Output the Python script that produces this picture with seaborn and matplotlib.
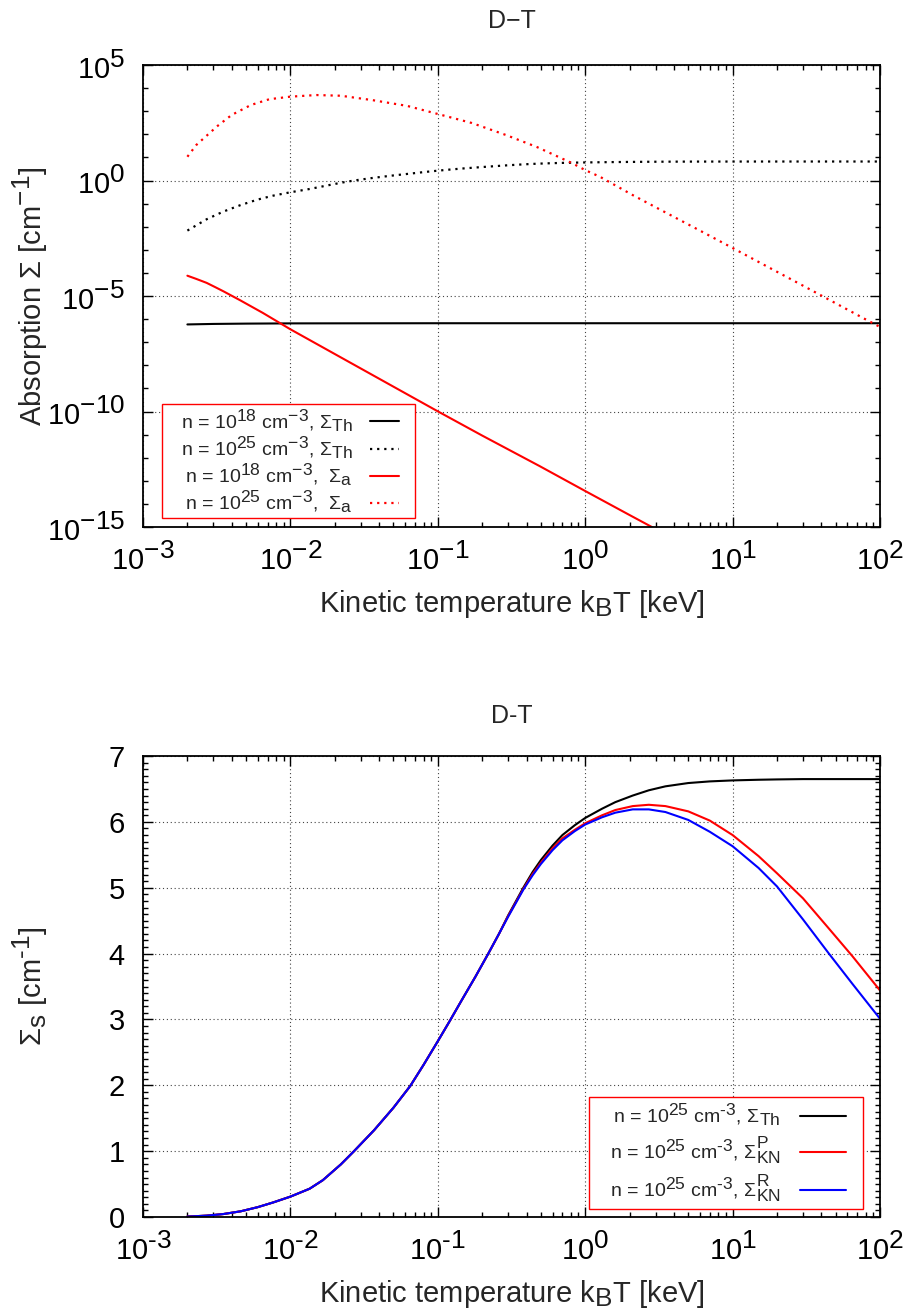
import math

import matplotlib
matplotlib.use("Agg")
import matplotlib._mathtext as mathtext_internals
import matplotlib.pyplot as plt
import matplotlib.ticker as mticker
import seaborn as sns

# gnuplot-like superscripts are larger than matplotlib's default 0.7
mathtext_internals.SHRINK_FACTOR = 0.9

# ---- temperature grid shared by the Thomson / Klein-Nishina curves [keV] ----
temp_th = [0.002, 0.0027, 0.0035, 0.0046, 0.006, 0.0076, 0.01, 0.0135, 0.0166, 0.022,
           0.027, 0.037, 0.05, 0.065, 0.08, 0.1, 0.12, 0.145, 0.18, 0.22, 0.26, 0.3,
           0.38, 0.44, 0.5, 0.6, 0.7, 0.85, 1.0, 1.3, 1.6, 2.1, 2.7, 3.5, 5, 7, 10,
           15, 20, 30, 45, 65, 100]
# Thomson, n = 1e25 (same curve in both panels)
sigma_th_25 = [0.0068, 0.021, 0.045, 0.087, 0.15, 0.22, 0.31, 0.43, 0.56, 0.80,
               1.0, 1.32, 1.66, 1.99, 2.31, 2.67, 2.97, 3.29, 3.65, 4.0, 4.30, 4.58,
               5.0, 5.24, 5.42, 5.64, 5.80, 5.95, 6.06, 6.2, 6.30, 6.40, 6.48, 6.54, 6.59,
               6.615, 6.63, 6.64, 6.645, 6.65, 6.65, 6.65, 6.65]
# Klein-Nishina, n = 1e25
sigma_kn_p = [0.0068, 0.021, 0.045, 0.087, 0.15, 0.22, 0.31, 0.43, 0.56, 0.80,
              1.0, 1.32, 1.66, 1.99, 2.31, 2.67, 2.97, 3.29, 3.65, 4.0, 4.30, 4.57,
              4.98, 5.21, 5.38, 5.60, 5.75, 5.88, 5.98, 6.1, 6.18, 6.24, 6.26, 6.24, 6.16,
              6.02, 5.80, 5.48, 5.22, 4.84, 4.38, 3.96, 3.44]
sigma_kn_r = [0.0068, 0.021, 0.045, 0.087, 0.15, 0.22, 0.31, 0.43, 0.56, 0.80,
              1.0, 1.32, 1.66, 1.99, 2.31, 2.67, 2.97, 3.29, 3.65, 4.0, 4.30, 4.56,
              4.97, 5.19, 5.36, 5.57, 5.72, 5.86, 5.96, 6.07, 6.14, 6.19, 6.19, 6.15, 6.03,
              5.85, 5.63, 5.30, 5.02, 4.52, 4.0, 3.54, 3.01]

# ---- top panel only ----
temp_th18 = [0.002, 0.003, 0.005, 0.01, 0.1, 1.0, 10, 100]
sigma_th_18 = [5.9e-7, 6.2e-7, 6.4e-7, 6.55e-7, 6.65e-7, 6.65e-7, 6.65e-7, 6.65e-7]

temp_a18 = [0.002, 0.0023, 0.0027, 0.0031, 0.0035, 0.00455, 0.0065, 0.01, 0.02, 0.055,
            0.1, 0.2, 0.49, 1.0, 2.0, 3.2]
sigma_a_18 = [7.59e-5, 5.50e-5, 3.72e-5, 2.40e-5, 1.62e-5, 6.61e-6, 1.86e-6, 3.63e-7,
              3.09e-8, 8.51e-10, 1.02e-10, 9.12e-12, 4.37e-13, 3.63e-14, 3.31e-15, 6.61e-16]

temp_a25 = [0.002, 0.0023, 0.0032, 0.004, 0.0054, 0.0072, 0.01, 0.015, 0.022, 0.036,
            0.062, 0.1, 0.17, 0.29, 0.47, 0.81, 1.0, 1.26, 2.1, 3.5, 6.0, 10, 17, 29,
            48, 81, 100]
sigma_a_25 = [10.7, 34.7, 229, 692, 1862, 3311, 4266, 5012, 4677, 3020,
              1698, 759, 309, 93.3, 28.2, 5.75, 2.82, 1.45, 0.234, 0.0417, 6.8e-3,
              1.20e-3, 1.95e-4, 3.16e-5, 5.6e-6, 9.3e-7, 4.57e-7]

sns.set_style("ticks")
plt.rcParams["font.family"] = ["Liberation Sans", "DejaVu Sans"]
plt.rcParams["mathtext.fontset"] = "custom"
plt.rcParams["mathtext.rm"] = "Liberation Sans"
plt.rcParams["mathtext.it"] = "Liberation Sans:italic"
plt.rcParams["mathtext.bf"] = "Liberation Sans:bold"
plt.rcParams["mathtext.sf"] = "Liberation Sans"

HY = "\u2010"  # plain hyphen, used in the lower panel instead of a minus sign
DOT = (0, (1, 2.2))
LEAD = "   "  # gnuplot key keeps some room left of the text


def style_axes(ax):
    ax.set_xscale("log")
    ax.set_xlim(1e-3, 1e2)
    ax.xaxis.set_major_locator(mticker.LogLocator(base=10, numticks=10))
    ax.xaxis.set_minor_locator(mticker.LogLocator(base=10, subs=range(2, 10), numticks=20))
    ax.xaxis.set_minor_formatter(mticker.NullFormatter())
    ax.tick_params(which="both", direction="in", top=True, right=True,
                   colors="black", labelsize=21, width=1)
    ax.tick_params(which="major", length=7)
    ax.tick_params(which="minor", length=3.5)
    ax.tick_params(axis="x", which="major", pad=11)
    ax.tick_params(axis="y", which="major", pad=13)
    ax.grid(True, which="major", color="#444444", linestyle=(0, (1, 2.5)), linewidth=0.8)
    for s in ax.spines.values():
        s.set_linewidth(1.3)
        s.set_color("black")
    ax.set_xlabel("Kinetic temperature k$_{\\rm B}$T [keV]", fontsize=21, labelpad=9)
    ax.yaxis.set_label_coords(-0.126, 0.5)


def hyphen_decade(v, pos):
    exp = int(round(math.log10(v)))
    return "$\\mathdefault{10^{" + str(exp).replace("-", HY) + "}}$"


fig = plt.figure(figsize=(9.08, 13.16), dpi=100)

# ---------- top ----------
ax1 = fig.add_axes([0.1575, 0.5995, 0.8117, 0.3511])
sns.lineplot(x=temp_th18, y=sigma_th_18, ax=ax1, color="black", linewidth=1.5,
             label=LEAD + "n = 10$^{18}$ cm$^{-3}$, $\\Sigma_{\\rm Th}$")
sns.lineplot(x=temp_th, y=sigma_th_25, ax=ax1, color="black", linewidth=1.6, linestyle=DOT,
             label=LEAD + "n = 10$^{25}$ cm$^{-3}$, $\\Sigma_{\\rm Th}$")
sns.lineplot(x=temp_a18, y=sigma_a_18, ax=ax1, color="red", linewidth=1.5,
             label=LEAD + "n = 10$^{18}$ cm$^{-3}$,  $\\Sigma_{\\rm a}$")
sns.lineplot(x=temp_a25, y=sigma_a_25, ax=ax1, color="red", linewidth=1.6, linestyle=DOT,
             label=LEAD + "n = 10$^{25}$ cm$^{-3}$,  $\\Sigma_{\\rm a}$")
ax1.set_yscale("log")
style_axes(ax1)
ax1.set_ylim(1e-15, 1e5)
ax1.yaxis.set_major_locator(mticker.FixedLocator([1e-15, 1e-10, 1e-5, 1e0, 1e5]))
ax1.yaxis.set_minor_locator(mticker.FixedLocator([10.0 ** k for k in range(-15, 6)]))
ax1.yaxis.set_major_formatter(mticker.LogFormatterSciNotation())
ax1.yaxis.set_minor_formatter(mticker.NullFormatter())
ax1.set_ylabel("Absorption \u03a3 [cm$^{-1}$]", fontsize=21)
ax1.set_title("D\u2212T", fontsize=18, pad=27)
leg1 = ax1.legend(loc="lower left", bbox_to_anchor=(0.026, 0.019, 0.343, 0.3),
                  mode="expand", fontsize=14,
                  markerfirst=False, frameon=True, fancybox=False, framealpha=1,
                  edgecolor="red", handlelength=1.45, handletextpad=0.9,
                  labelspacing=0.05, borderpad=0.15, borderaxespad=0)
leg1.get_frame().set_linewidth(1.0)

# ---------- bottom ----------
ax2 = fig.add_axes([0.1575, 0.0752, 0.8117, 0.3503])
sns.lineplot(x=temp_th, y=sigma_th_25, ax=ax2, color="black", linewidth=1.5,
             label=LEAD + "n = 10$^{25}$ cm$^{" + HY + "3}$, $\\Sigma_{\\rm Th}$")
sns.lineplot(x=temp_th, y=sigma_kn_p, ax=ax2, color="red", linewidth=1.5,
             label=LEAD + "n = 10$^{25}$ cm$^{" + HY + "3}$, $\\Sigma_{\\rm KN}^{\\rm P}$")
sns.lineplot(x=temp_th, y=sigma_kn_r, ax=ax2, color="blue", linewidth=1.5,
             label=LEAD + "n = 10$^{25}$ cm$^{" + HY + "3}$, $\\Sigma_{\\rm KN}^{\\rm R}$")
style_axes(ax2)
ax2.set_ylim(0, 7)
ax2.yaxis.set_major_locator(mticker.MultipleLocator(1))
ax2.yaxis.set_minor_locator(mticker.MultipleLocator(0.1))
ax2.xaxis.set_major_formatter(mticker.FuncFormatter(hyphen_decade))
ax2.set_ylabel("$\\Sigma_{\\rm s}$ [cm$^{" + HY + "1}$]", fontsize=21)
ax2.set_title("D-T", fontsize=18, pad=24)
leg2 = ax2.legend(loc="lower right", bbox_to_anchor=(0.605, 0.017, 0.372, 0.3),
                  mode="expand", fontsize=14,
                  markerfirst=False, frameon=True, fancybox=False, framealpha=1,
                  edgecolor="red", handlelength=2.37, handletextpad=1.0,
                  labelspacing=0.4, borderpad=0.25, borderaxespad=0)
leg2.get_frame().set_linewidth(1.0)

fig.savefig("out.png", dpi=100)
